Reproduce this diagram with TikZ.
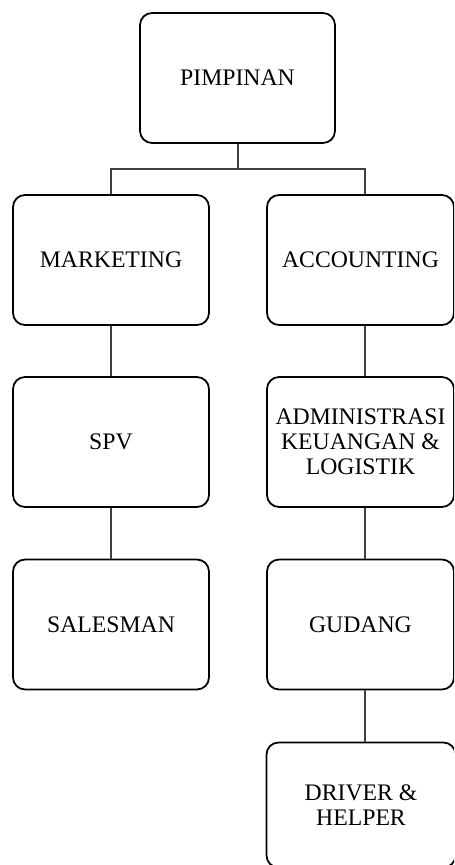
\documentclass[tikz,border=0pt]{standalone}
\usepackage{fontspec}
\setmainfont{Liberation Serif}
\usepackage{tikz}
\tikzstyle{unit} = [rectangle, rounded corners=0.24cm, minimum width = 3.92cm, minimum height=2.6cm, align=center, draw = black, line width=1pt, font=\fontsize{13.5}{14.2}\selectfont]
\tikzstyle{link} = [draw=black!75, line width=0.7pt]
\usetikzlibrary{positioning}

\begin{document}
\begin{tikzpicture}[x=0.02cm, y=-0.02cm]
      \useasboundingbox (0,0) rectangle (454,865);
      \clip (0,0) rectangle (454,865);
      \node[unit, minimum width=3.9cm] (pim) at (237.5,78) {PIMPINAN};
      \node[unit] (mkt) at (111,260) {MARKETING};
      \node[unit, minimum width=3.74cm] (acc) at (360.5,260) {ACCOUNTING};
      \node[unit] (spv) at (111,442) {SPV};
      \node[unit, minimum width=3.74cm] (adm) at (360.5,442) {ADMINISTRASI\\KEUANGAN \&\\LOGISTIK};
      \node[unit] (sal) at (111,624.5) {SALESMAN};
      \node[unit, minimum width=3.74cm] (gud) at (360.5,624.5) {GUDANG};
      \node[unit, minimum width=3.78cm, minimum height=2.5cm] (drv) at (361,805) {DRIVER \&\\HELPER};
      \coordinate (split) at (238,169);
      \coordinate (rx) at (365,0);

      % pimpinan to the two divisions
      \draw[link] (pim.south -| split) -- (split);
      \draw[link] (mkt.north) |- (split) -| (acc.north -| rx);
      % marketing line
      \draw[link] (mkt) -- (spv);
      \draw[link] (spv) -- (sal);
      % accounting line
      \draw[link] (acc.south -| rx) -- (adm.north -| rx);
      \draw[link] (adm.south -| rx) -- (gud.north -| rx);
      \draw[link] (gud.south -| rx) -- (drv.north -| rx);
    \end{tikzpicture}
\end{document}
